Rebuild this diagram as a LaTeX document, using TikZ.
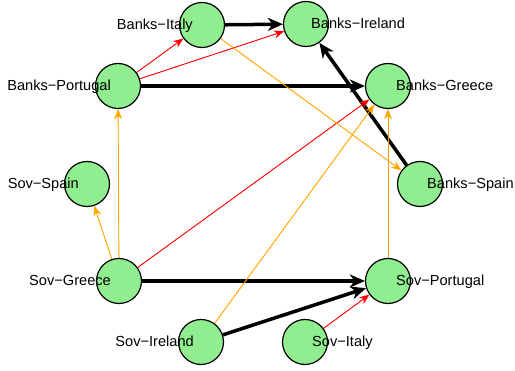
\documentclass[tikz,border=0pt]{standalone}
\usepackage{fontspec}
\setmainfont{Liberation Sans}
\usetikzlibrary{arrows.meta}
\pgfdeclarelayer{edges}
\pgfsetlayers{edges,main}
\definecolor{vgreen}{HTML}{90EE90}
\definecolor{eorange}{HTML}{FFA500}
\definecolor{ered}{HTML}{FF0000}
\begin{document}
\begin{tikzpicture}[x=1pt,y=-1pt,
  vertex/.style={circle,draw,line width=1.2pt,fill=vgreen,minimum size=45pt,inner sep=0pt},
  lbl/.style={inner sep=0pt,font=\fontsize{14.6}{16}\selectfont},
  heavy/.style={draw=black,line width=3.5pt,-{Stealth[length=15pt,width=13pt,inset=4.5pt]}},
  weak/.style={line width=0.9pt,-{Stealth[length=10pt,width=8pt,inset=3pt]}},
  redge/.style={weak,draw=ered,fill=ered},
  oedge/.style={weak,draw=eorange,fill=eorange},
]
\useasboundingbox (0,0) rectangle (515,371);

% vertices
\node[vertex] (bit) at (202,25) {};
\node[vertex] (bie) at (306,24) {};
\node[vertex] (bpt) at (118,86) {};
\node[vertex] (bgr) at (388,86) {};
\node[vertex] (bes) at (420,184) {};
\node[vertex] (ses) at (87,184) {};
\node[vertex] (sgr) at (119,281) {};
\node[vertex] (sie) at (201,342) {};
\node[vertex] (sit) at (305,342) {};
\node[vertex] (spt) at (388,281) {};

% edges, beneath the vertices
\begin{pgfonlayer}{edges}
\draw[heavy] (bit) -- (bie);
\draw[heavy] (bpt) -- (bgr);
\draw[heavy] (bes) -- (bie);
\draw[heavy] (sgr) -- (spt);
\draw[heavy] (sie) -- (spt);
\draw[redge] (bpt) -- (bit);
\draw[redge] (bpt) -- (bie);
\draw[redge] (sgr) -- (bgr);
\draw[redge] (sit) -- (spt);
\draw[oedge] (bit) -- (bes);
\draw[oedge] (spt) -- (bgr);
\draw[oedge] (sie) -- (bgr);
\draw[oedge] (sgr) -- (bpt);
\draw[oedge] (sgr) -- (ses);
\end{pgfonlayer}

% labels
\node[lbl,anchor=base east] (bit-l) at (193,30) {Banks−Italy};
\node[lbl,anchor=base west] (bie-l) at (311,29) {Banks−Ireland};
\node[lbl,anchor=base east] (bpt-l) at (111,91) {Banks−Portugal};
\node[lbl,anchor=base west] (bgr-l) at (396,91) {Banks−Greece};
\node[lbl,anchor=base west] (bes-l) at (427,189) {Banks−Spain};
\node[lbl,anchor=base east] (ses-l) at (79,189) {Sov−Spain};
\node[lbl,anchor=base east] (sgr-l) at (111,286) {Sov−Greece};
\node[lbl,anchor=base east] (sie-l) at (194,347) {Sov−Ireland};
\node[lbl,anchor=base west] (sit-l) at (312,347) {Sov−Italy};
\node[lbl,anchor=base west] (spt-l) at (396,286) {Sov−Portugal};
\end{tikzpicture}
\end{document}
